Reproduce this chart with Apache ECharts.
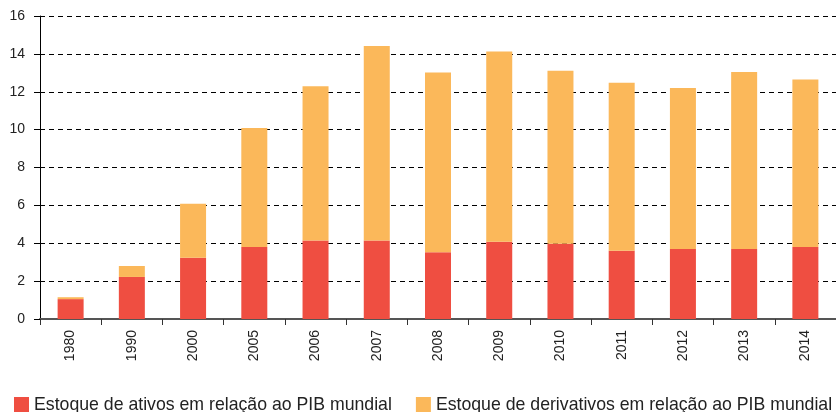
<!DOCTYPE html>
<html>
<head>
<meta charset="utf-8">
<script src="https://cdn.jsdelivr.net/npm/echarts@6/dist/echarts.min.js"></script>
<style>
    html, body { margin: 0; padding: 0; background: #fff; }
    #chart { width: 836px; height: 412px; }
</style>
</head>
<body>
<div id="chart"></div>
<script>
const years = ['1980', '1990', '2000', '2005', '2006', '2007', '2008', '2009', '2010', '2011', '2012', '2013', '2014'];
// estoque de ativos / PIB mundial
const ativos = [1.05, 2.22, 3.24, 3.8, 4.15, 4.15, 3.52, 4.08, 3.98, 3.61, 3.7, 3.7, 3.8];
// estoque de derivativos / PIB mundial (parte empilhada)
const derivativos = [0.1, 0.58, 2.85, 6.28, 8.14, 10.26, 9.5, 10.05, 9.13, 8.87, 8.5, 9.34, 8.85];
const yTicks = [0, 2, 4, 6, 8, 10, 12, 14, 16];

const font = '"Liberation Sans", Arial, sans-serif';
const chart = echarts.init(document.getElementById('chart'));
chart.setOption({
    animation: false,
    textStyle: { fontFamily: font },
    grid: { left: 40, right: 0, top: 16, bottom: 93, containLabel: false },
    legend: {
        left: 14,
        top: 396,
        padding: 0,
        icon: 'rect',
        itemWidth: 15,
        itemHeight: 16,
        itemGap: 24,
        textStyle: { fontSize: 17.7, color: '#222', fontFamily: font }
    },
    xAxis: {
        type: 'category',
        data: years,
        axisLine: { lineStyle: { color: '#555', width: 2 } },
        axisTick: { show: true, length: 6, lineStyle: { color: '#333' } },
        axisLabel: { rotate: 90, fontSize: 14, color: '#222', margin: 11 }
    },
    yAxis: {
        type: 'value',
        min: yTicks[0],
        max: yTicks[yTicks.length - 1],
        interval: 2,
        axisLine: { show: true, lineStyle: { color: '#000' } },
        axisTick: { show: true, length: 6, lineStyle: { color: '#000' } },
        axisLabel: { fontSize: 14, color: '#222', margin: 15 },
        splitLine: { lineStyle: { color: '#000', type: [5, 4] } }
    },
    series: [
        {
            name: 'Estoque de ativos em relação ao PIB mundial',
            type: 'bar',
            stack: 'total',
            barWidth: 26,
            itemStyle: { color: '#ef4e41' },
            data: ativos
        },
        {
            name: 'Estoque de derivativos em relação ao PIB mundial',
            type: 'bar',
            stack: 'total',
            barWidth: 26,
            itemStyle: { color: '#fbb85a' },
            data: derivativos
        }
    ]
});
</script>
</body>
</html>
